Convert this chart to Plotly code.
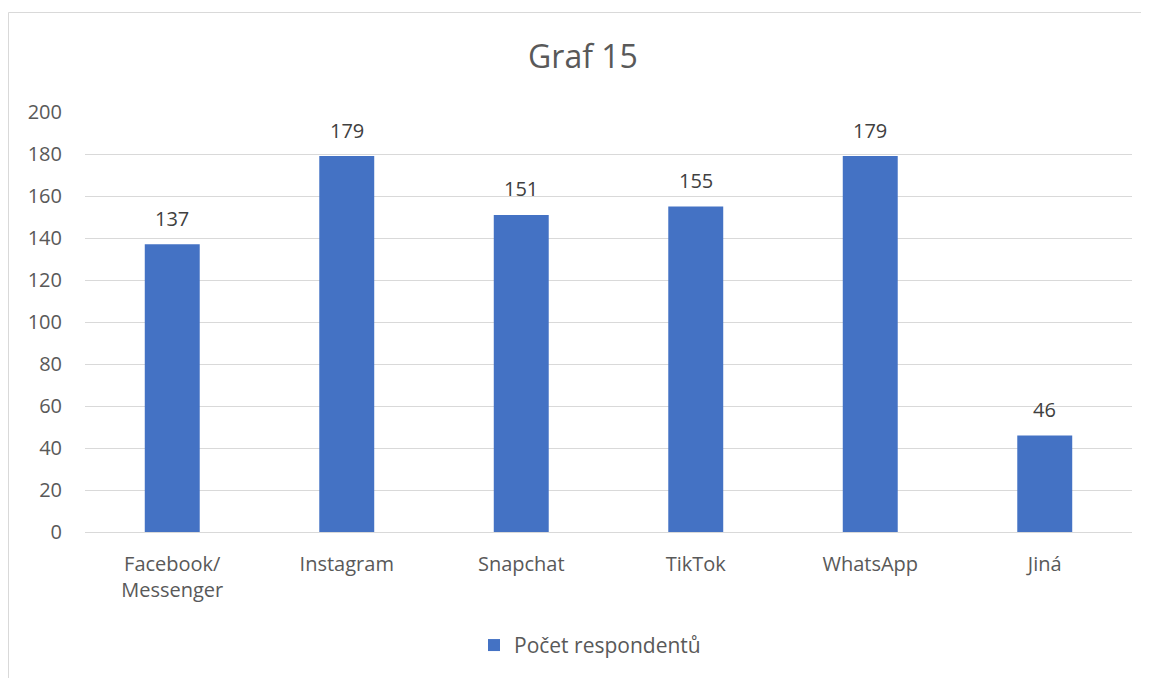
import plotly.graph_objects as go

categories = ['Facebook/<br>Messenger', 'Instagram', 'Snapchat', 'TikTok', 'WhatsApp', 'Jiná']
respondents = [137, 179, 151, 155, 179, 46]
series_name = 'Počet respondentů'
y_ticks = [0, 20, 40, 60, 80, 100, 120, 140, 160, 180, 200]

font_family = 'Open Sans, Noto Sans, sans-serif'
grey = '#595959'

# the page body has an 8px margin, so the layout is shifted back by 8px
fig = go.Figure()
fig.add_bar(x=categories, y=respondents, name=series_name,
            marker=dict(color='#4472C4', line=dict(width=0)))

# value labels above the bars
for cat, val in zip(categories, respondents):
    fig.add_annotation(x=cat, y=val, text=str(val), showarrow=False,
                       yanchor='middle', yshift=26,
                       font=dict(size=20, color='#404040', family=font_family))

fig.update_layout(
    width=1149, height=678,
    margin=dict(l=77, r=25, t=104, b=154),
    paper_bgcolor='white', plot_bgcolor='white',
    font=dict(family=font_family, color=grey, size=20),
    title=dict(text='Graf 15', x=(583 - 8) / 1149, xanchor='center', y=1 - 49 / 678, yanchor='middle',
               yref='container', xref='container', font=dict(size=32, color=grey, family=font_family)),
    bargap=0.685,
    showlegend=True,
    legend=dict(orientation='h', x=(590 - 85) / 1047, xanchor='center', y=-0.27, yanchor='middle',
                font=dict(size=21, color=grey), itemwidth=30),
    shapes=[dict(type='rect', xref='paper', yref='paper',
                 x0=(0.5 - 77) / 1047, x1=1.2, y0=-0.6, y1=(524 - 4.5) / 420,
                 line=dict(color='#d9d9d9', width=1), layer='below')],
)
fig.update_xaxes(showgrid=False, showline=True, linecolor='#d9d9d9', linewidth=1,
                 ticks='', tickfont=dict(size=20, color=grey), ticklabelstandoff=14)
fig.update_yaxes(range=[0, 200], tickvals=y_ticks, showgrid=True, gridcolor='#d9d9d9',
                 gridwidth=1, zeroline=False, showline=False, ticks='',
                 tickfont=dict(size=20, color=grey), ticklabelstandoff=22)

fig.write_html('out.html')
